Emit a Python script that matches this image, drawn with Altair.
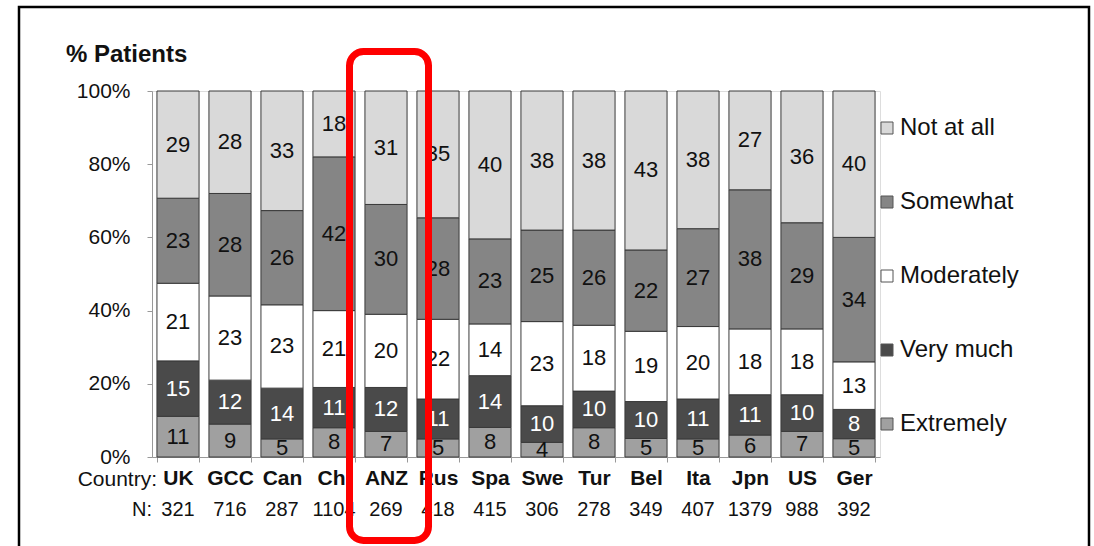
import altair as alt
import pandas as pd

# Survey results: share of patients per response level, by country
countries = ["UK", "GCC", "Can", "Chi", "ANZ", "Rus", "Spa", "Swe", "Tur",
             "Bel", "Ita", "Jpn", "US", "Ger"]
n_patients = [321, 716, 287, 1104, 269, 418, 415, 306, 278, 349, 407, 1379, 988, 392]

levels = ["Not at all", "Somewhat", "Moderately", "Very much", "Extremely"]
level_colors = ["#d9d9d9", "#858585", "#ffffff", "#4a4a4a", "#a0a0a0"]

extremely = [11, 9, 5, 8, 7, 5, 8, 4, 8, 5, 5, 6, 7, 5]
very_much = [15, 12, 14, 11, 12, 11, 14, 10, 10, 10, 11, 11, 10, 8]
moderately = [21, 23, 23, 21, 20, 22, 14, 23, 18, 19, 20, 18, 18, 13]
somewhat = [23, 28, 26, 42, 30, 28, 23, 25, 26, 22, 27, 38, 29, 34]
not_at_all = [29, 28, 33, 18, 31, 35, 40, 38, 38, 43, 38, 27, 36, 40]

series = {
    "Extremely": extremely,
    "Very much": very_much,
    "Moderately": moderately,
    "Somewhat": somewhat,
    "Not at all": not_at_all,
}
stack_rank = {"Extremely": 0, "Very much": 1, "Moderately": 2, "Somewhat": 3, "Not at all": 4}

rows = []
for level, vals in series.items():
    for c, v in zip(countries, vals):
        rows.append({"country": c, "level": level, "pct": v, "rank": stack_rank[level]})
df = pd.DataFrame(rows)
n_df = pd.DataFrame({"country": countries, "n": n_patients})

FONT = "Liberation Sans"
W, H = 728, 366

x_enc = alt.X(
    "country:N",
    sort=countries,
    scale=alt.Scale(paddingInner=0.19, paddingOuter=0.095),
    axis=alt.Axis(
        title=None, labelAngle=0, labelFont=FONT, labelFontSize=21,
        labelFontWeight="bold", labelColor="#111", labelPadding=5,
        tickBand="extent", tickSize=5, tickColor="#999", domainColor="#999",
    ),
)

base = alt.Chart(df).transform_stack(
    stack="pct", as_=["y0", "y1"], groupby=["country"],
    sort=[alt.SortField("rank", order="ascending")], offset="normalize",
).transform_calculate(mid="(datum.y0 + datum.y1) / 2")

bars = base.mark_bar(stroke="#3a3a3a", strokeWidth=1).encode(
    x=x_enc,
    y=alt.Y(
        "y0:Q",
        scale=alt.Scale(domain=[0, 1]),
        axis=alt.Axis(
            title=None, format=".0%", values=[0, 0.2, 0.4, 0.6, 0.8, 1.0],
            labelFont=FONT, labelFontSize=21, labelColor="#111",
            tickSize=5, tickColor="#999", domainColor="#999", labelPadding=17,
            grid=False,
        ),
    ),
    y2="y1:Q",
    fill=alt.Fill(
        "level:N",
        scale=alt.Scale(domain=levels, range=level_colors),
        legend=alt.Legend(
            title=None, orient="none", legendX=723, legendY=25,
            symbolType="square", symbolSize=144, symbolStrokeColor="#555",
            symbolStrokeWidth=1, labelFont=FONT, labelFontSize=24,
            labelColor="#111", labelOffset=1, rowPadding=50, padding=0,
        ),
    ),
)

seg_labels = base.mark_text(font=FONT, fontSize=22, baseline="middle").encode(
    x=alt.X("country:N", sort=countries),
    y=alt.Y("mid:Q"),
    text=alt.Text("pct:Q"),
    color=alt.condition(alt.datum.level == "Very much", alt.value("white"), alt.value("#111")),
)

n_row = alt.Chart(n_df).mark_text(font=FONT, fontSize=20, baseline="middle", color="#111").encode(
    x=alt.X("country:N", sort=countries),
    y=alt.value(419),
    text="n:Q",
)

annot = pd.DataFrame({"t": ["Country:", "N:", "% Patients"]})
country_tag = alt.Chart(annot).transform_filter(alt.datum.t == "Country:").mark_text(
    font=FONT, fontSize=21, align="right", baseline="middle", color="#111"
).encode(x=alt.value(5), y=alt.value(389), text="t:N")
n_tag = alt.Chart(annot).transform_filter(alt.datum.t == "N:").mark_text(
    font=FONT, fontSize=20, align="right", baseline="middle", color="#111"
).encode(x=alt.value(0), y=alt.value(419), text="t:N")
title = alt.Chart(annot).transform_filter(alt.datum.t == "% Patients").mark_text(
    font=FONT, fontSize=24, fontWeight="bold", align="left", baseline="middle", color="#111"
).encode(x=alt.value(-86), y=alt.value(-36), text="t:N")

# Highlight box around the ANZ column
highlight = alt.Chart(n_df).transform_filter(alt.datum.country == "ANZ").mark_bar(
    width=79, xOffset=3, cornerRadius=14, fillOpacity=0, stroke="#ff0000", strokeWidth=7
).encode(
    x=alt.X("country:N", sort=countries),
    y=alt.value(-39.5),
    y2=alt.value(449.5),
)

# Outer frame
frame = alt.Chart(annot).transform_filter(alt.datum.t == "N:").mark_rect(
    fillOpacity=0, stroke="black", strokeWidth=2.5
).encode(
    x=alt.value(-133), x2=alt.value(937), y=alt.value(-84), y2=alt.value(520),
)

chart = alt.layer(
    frame, bars, seg_labels, n_row, country_tag, n_tag, title, highlight
).properties(
    width=W, height=H,
    autosize=alt.AutoSizeParams(type="none"),
    padding={"left": 152, "top": 91, "right": 1094 - 152 - W, "bottom": 546 - 91 - H},
).configure_view(stroke=None).configure(background="white")

chart.save("out.html", embed_options={"renderer": "svg", "actions": False})
